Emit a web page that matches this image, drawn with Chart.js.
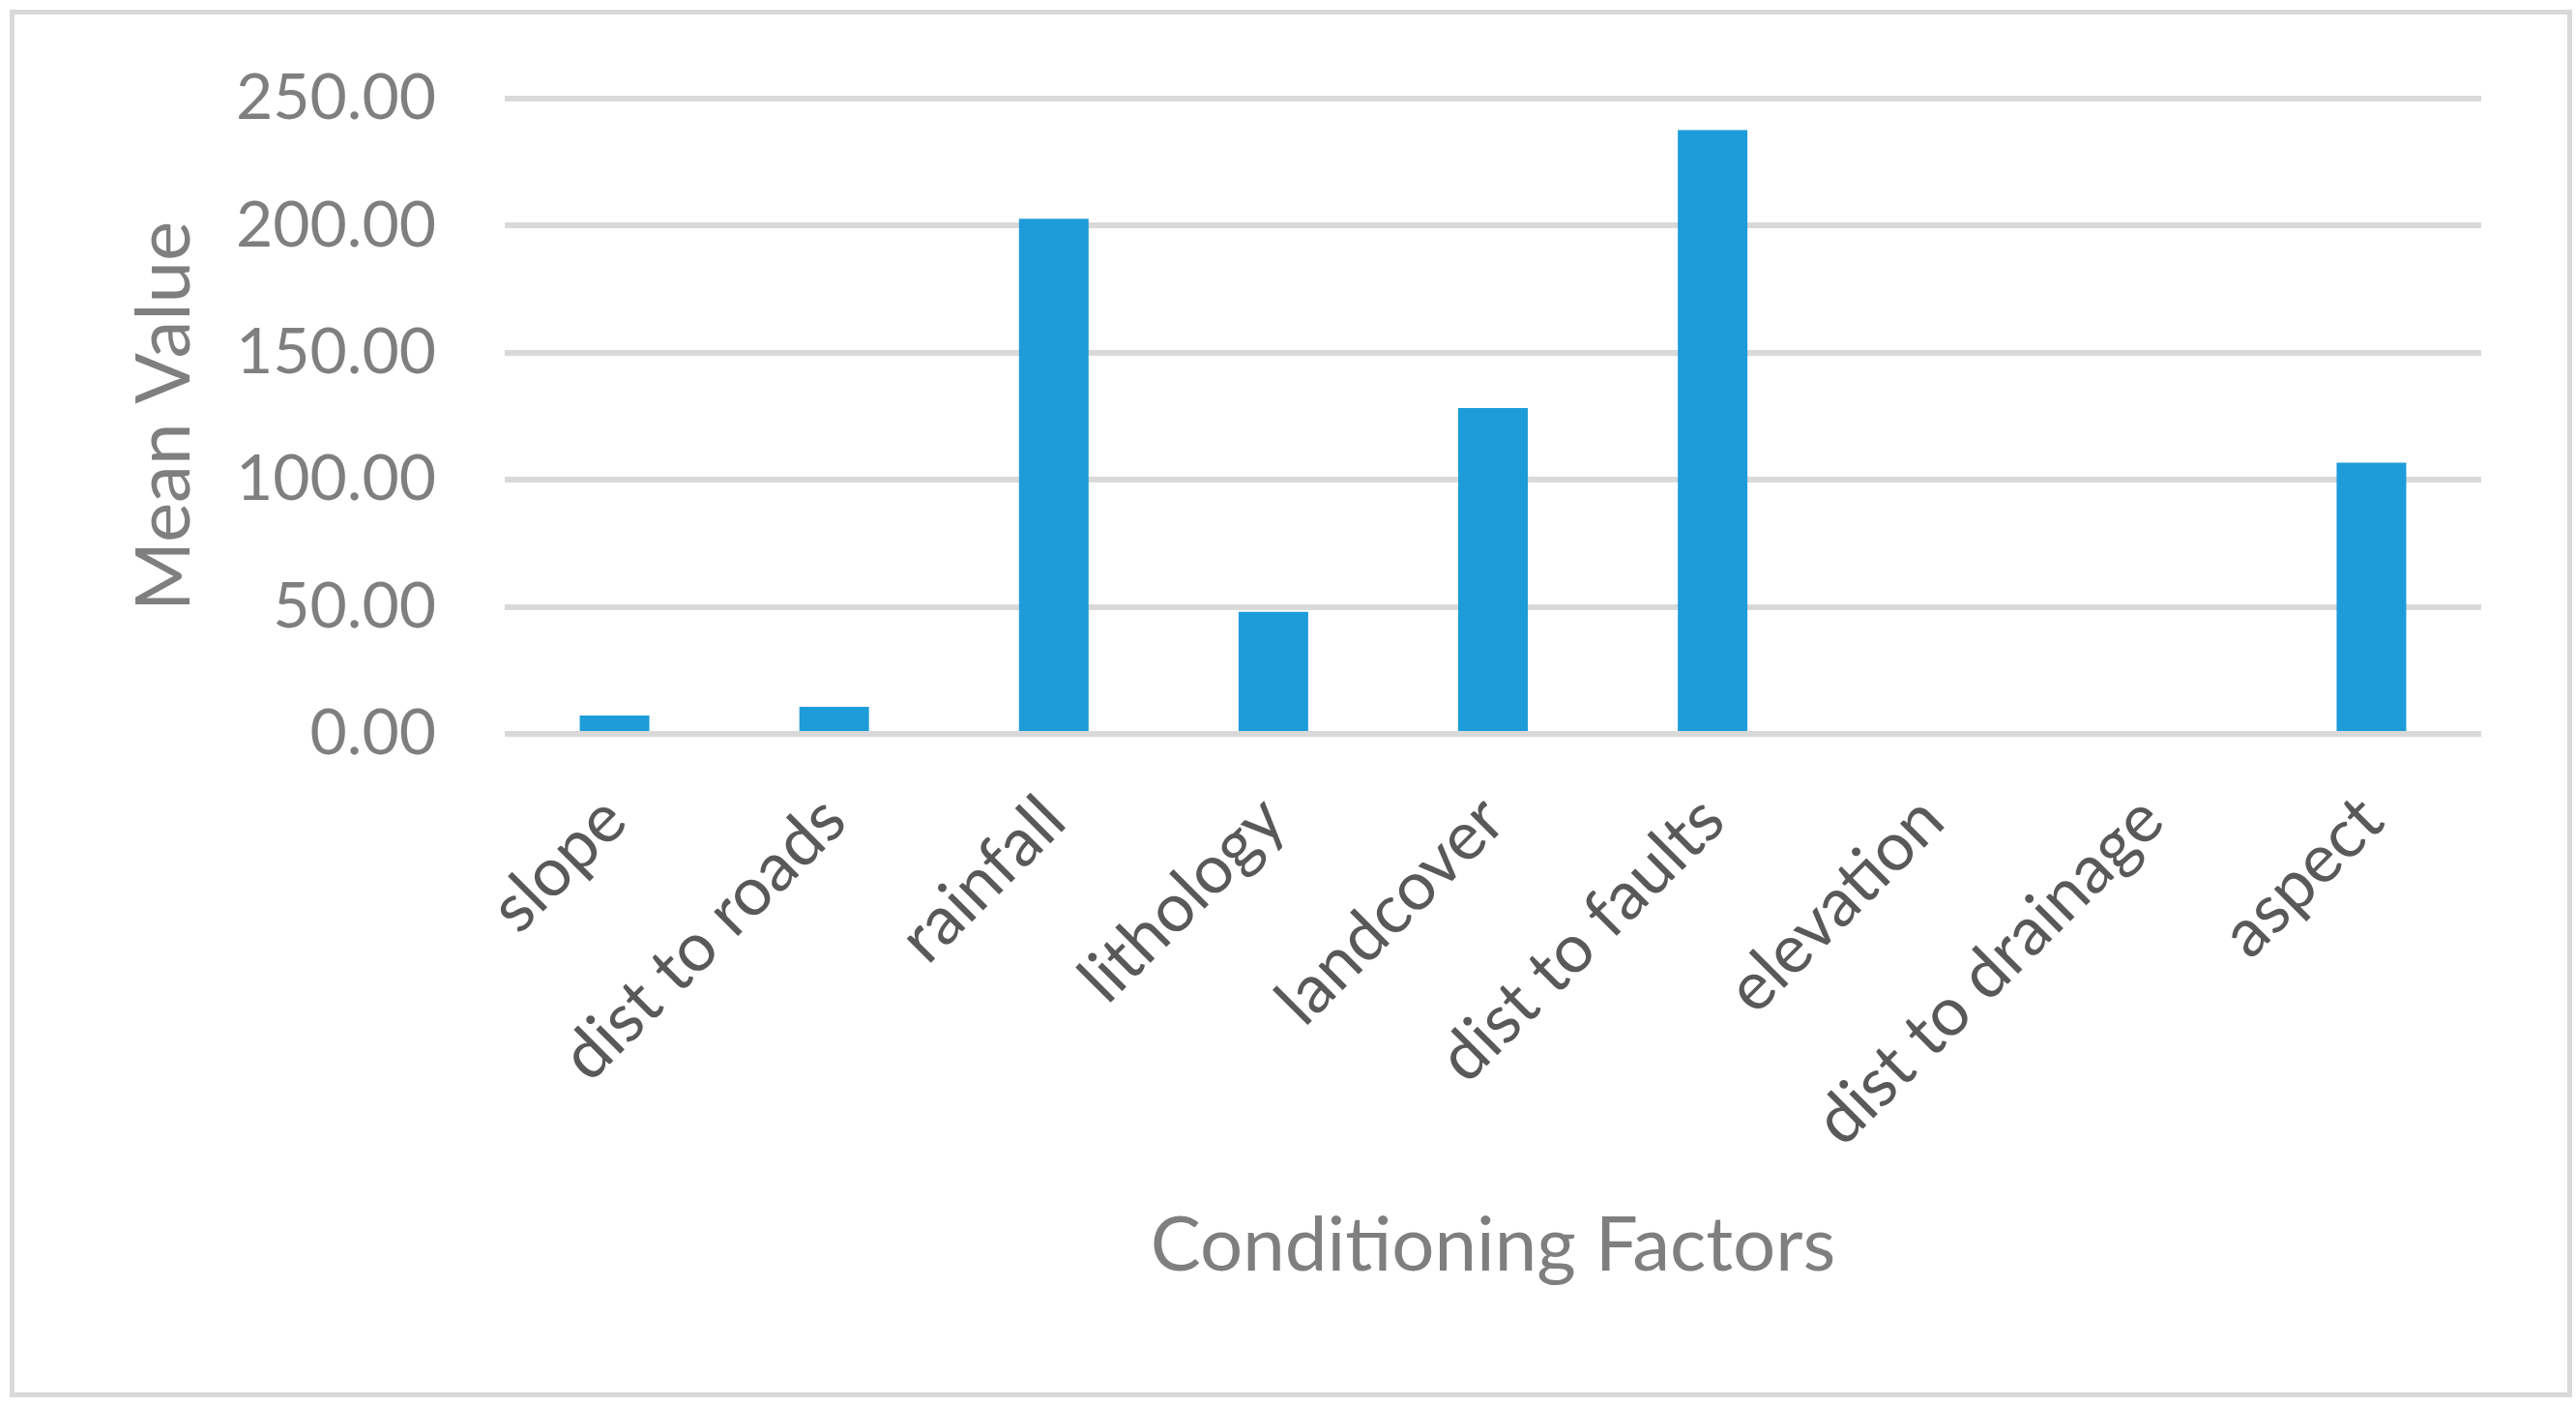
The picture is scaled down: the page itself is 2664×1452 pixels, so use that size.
<!DOCTYPE html>
<html>
<head>
<meta charset="utf-8">
<script src="https://cdn.jsdelivr.net/npm/chart.js@4.4.1/dist/chart.umd.min.js"></script>
<style>
  html, body { margin: 0; padding: 0; background: #fff; }
  #wrap { position: relative; width: 2664px; height: 1452px; }
  #frame {
    position: absolute; left: 10px; top: 10px; width: 2650px; height: 1435px;
    box-sizing: border-box; border: 5px solid #d9d9d9; pointer-events: none;
  }
  canvas { position: absolute; left: 0; top: 0; }
</style>
</head>
<body>
<div id="wrap">
  <canvas id="meanChart" width="2664" height="1452"></canvas>
  <div id="frame"></div>
</div>
<script>
const factors = ['slope', 'dist to roads', 'rainfall', 'lithology', 'landcover', 'dist to faults', 'elevation', 'dist to drainage', 'aspect'];
const meanValues = [7.2, 10.7, 202.7, 48.0, 128.2, 237.6, 0, 0, 106.7];
const yTicks = [0, 50, 100, 150, 200, 250];

const FONT = 'Lato, "Open Sans", sans-serif';

const ctx = document.getElementById('meanChart').getContext('2d');
new Chart(ctx, {
  type: 'bar',
  data: {
    labels: factors,
    datasets: [{
      label: 'Mean Value',
      data: meanValues,
      backgroundColor: '#1E9CD9',
      borderWidth: 0,
      categoryPercentage: 1,
      barPercentage: 0.317
    }]
  },
  options: {
    responsive: false,
    animation: false,
    layout: {
      padding: { left: 100, right: 98, top: 102, bottom: 100 }
    },
    plugins: {
      legend: { display: false },
      tooltip: { enabled: false }
    },
    scales: {
      x: {
        grid: { display: false, drawTicks: false },
        border: { display: false },
        ticks: {
          color: '#595959',
          font: { family: FONT, size: 70 },
          minRotation: 45,
          maxRotation: 45,
          padding: 48,
          autoSkip: false
        },
        title: {
          display: true,
          text: 'Conditioning Factors',
          color: '#7f7f7f',
          font: { family: FONT, size: 78 },
          padding: { top: 0, bottom: 16 }
        },
        afterFit: (scale) => { scale.height = 1452 - 100 - 759; }
      },
      y: {
        min: 0,
        max: 250,
        afterBuildTicks: (scale) => { scale.ticks = yTicks.map(v => ({ value: v })); },
        // invisible tick marks keep the labels away from the plot
        grid: { color: '#d9d9d9', lineWidth: 6, drawTicks: true, tickLength: 68, tickColor: 'rgba(0,0,0,0)' },
        border: { display: false },
        ticks: {
          color: '#7f7f7f',
          font: { family: FONT, size: 66 },
          padding: 3,
          callback: (v) => Number(v).toFixed(2)
        },
        title: {
          display: true,
          text: 'Mean Value',
          color: '#7f7f7f',
          font: { family: FONT, size: 78 },
          padding: { top: 24, bottom: 0 }
        },
        afterFit: (scale) => { scale.width = 522 - 100; }
      }
    }
  }
});
</script>
</body>
</html>
